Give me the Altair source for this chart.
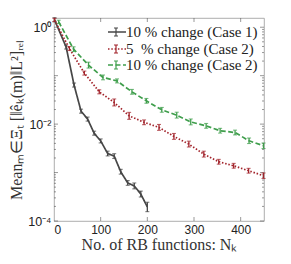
import altair as alt
import pandas as pd

# ---- data ----
labels = ["10 % change (Case 1)", "5\u00a0\u00a0% change (Case 2)", "10 % change (Case 2)"]
colors = ["#474747", "#a2232b", "#3f9e4c"]
dashes = [[1, 0], [1.5, 1.8], [5, 2.5]]

n_c1 = [1, 26, 43, 58, 72, 86, 100, 115, 129, 143, 158, 172, 186, 200]
v_c1 = [1.43, 0.39, 0.064, 0.0185, 0.0127, 0.0065, 0.0045, 0.00247, 0.00219,
        0.00104, 0.00061, 0.00053, 0.00036, 0.000195]
e_c1 = [1.1, 1.1, 1.1, 1.1, 1.1, 1.1, 1.1, 1.12, 1.12, 1.12, 1.12, 1.15, 1.15, 1.25]

n_r = [1, 33, 65, 97, 129, 161, 193, 225, 257, 289, 321, 353, 385, 417, 449]
v_r = [1.41, 0.363, 0.113, 0.0464, 0.028, 0.0148, 0.0109, 0.00855, 0.00557,
       0.00387, 0.0024, 0.00167, 0.00138, 0.00109, 0.00086]
e_r = [1.08, 1.1, 1.1, 1.1, 1.18, 1.18, 1.12, 1.15, 1.15, 1.15, 1.15, 1.12, 1.12, 1.12, 1.14]

n_g = [10, 42, 74, 105, 135, 167, 198, 231, 263, 293, 326, 356, 388, 418, 449]
v_g = [1.29, 0.352, 0.165, 0.092, 0.078, 0.0464, 0.0302, 0.0197, 0.0153,
       0.0111, 0.0092, 0.0073, 0.0067, 0.00453, 0.00357]
e_g = [1.08, 1.12, 1.15, 1.12, 1.1, 1.12, 1.12, 1.12, 1.15, 1.15, 1.12, 1.12, 1.12, 1.14, 1.14]

x_ticks = [0, 100, 200, 300, 400]
y_ticks = [1, 1e-2, 1e-4]

W, H = 210, 203
xs = alt.Scale(domain=[0, 450], nice=False)
ys = alt.Scale(type="log", domain=[1e-4, 1.55], nice=False)

series = [(n_c1, v_c1, e_c1), (n_r, v_r, e_r), (n_g, v_g, e_g)]
layers = []

# axes carrier (first layer so that its axes are used)
axis_df = pd.DataFrame({"x": [0, 450], "y": [1e-4, 1.55]})
layers.append(alt.Chart(axis_df).mark_point(opacity=0).encode(
    x=alt.X("x:Q", scale=xs, axis=alt.Axis(
        values=x_ticks, title="No. of RB functions: N\u2096", grid=False, ticks=False,
        domain=False, labelFont="Liberation Sans", labelFontSize=12, labelColor="#222",
        labelPadding=3, titleFont="Liberation Serif", titleFontSize=16,
        titleFontWeight="normal", titleColor="#333", titlePadding=1)),
    y=alt.Y("y:Q", scale=ys, axis=alt.Axis(
        values=y_ticks, grid=False, ticks=False, domain=False,
        labelExpr="datum.value > 0.5 ? '10\u2070' : (datum.value > 0.005 ? '10\u207b\u00b2' : '10\u207b\u2074')",
        labelFont="Liberation Sans", labelFontSize=12.5, labelColor="#222", labelPadding=3,
        title="Mean\u2098\u2208\u039e\u209c [\u2016\u00ea\u2096(m)\u2016L\u00b2]\u1d63\u2091\u2097",
        titleFont="Liberation Serif", titleFontSize=16, titleFontWeight="normal",
        titleColor="#333", titlePadding=3))))

# inside ticks
minor = [m * 10.0 ** e for e in range(-4, 1) for m in range(1, 10) if m * 10.0 ** e <= 1.55]
major = [10.0 ** e for e in range(-4, 1)]
tick_df = pd.DataFrame({"v": minor, "len": [4 if v in major else 2 for v in minor]})
for side in (0, 1):
    for L in (2, 4):
        sub = tick_df[tick_df["len"] == L]
        x0 = 0 if side == 0 else W
        x1 = L if side == 0 else W - L
        layers.append(alt.Chart(sub).mark_rule(color="#555", strokeWidth=0.6).encode(
            y=alt.Y("v:Q", scale=ys),
            x=alt.value(x0), x2=alt.value(x1)))
xt_df = pd.DataFrame({"x": x_ticks[1:]})
for y0, y1 in ((H, H - 4), (0, 4)):
    layers.append(alt.Chart(xt_df).mark_rule(color="#555", strokeWidth=0.6).encode(
        x=alt.X("x:Q", scale=xs), y=alt.value(y0), y2=alt.value(y1)))

for (n, v, e), c, d in zip(series, colors, dashes):
    df = pd.DataFrame({"n": n, "v": v, "lo": [a / b for a, b in zip(v, e)],
                       "hi": [a * b for a, b in zip(v, e)]})
    base = alt.Chart(df)
    layers.append(base.mark_line(color=c, strokeWidth=1.7, strokeDash=d).encode(
        x=alt.X("n:Q", scale=xs), y=alt.Y("v:Q", scale=ys)))
    layers.append(base.mark_rule(color=c, strokeWidth=1.3).encode(
        x=alt.X("n:Q", scale=xs), y=alt.Y("lo:Q", scale=ys), y2="hi:Q"))
    for f in ("lo", "hi"):
        layers.append(base.mark_tick(color=c, orient="horizontal", size=4, thickness=1.1).encode(
            x=alt.X("n:Q", scale=xs), y=alt.Y(f + ":Q", scale=ys)))

# legend
leg_y = [14, 31, 47]
for lab, c, d, yy in zip(labels, colors, dashes, leg_y):
    one = pd.DataFrame({"t": [lab]})
    b = alt.Chart(one)
    layers.append(b.mark_rule(color=c, strokeWidth=1.5, strokeDash=d).encode(
        x=alt.value(54), x2=alt.value(72), y=alt.value(yy)))
    layers.append(b.mark_rule(color=c, strokeWidth=1.2).encode(
        x=alt.value(62), y=alt.value(yy - 4), y2=alt.value(yy + 4)))
    for dy in (-4, 4):
        layers.append(b.mark_rule(color=c, strokeWidth=1).encode(
            x=alt.value(60), x2=alt.value(64), y=alt.value(yy + dy)))
    layers.append(b.mark_text(align="left", baseline="middle", font="Liberation Serif",
                              fontSize=15, color="#222").encode(
        x=alt.value(72), y=alt.value(yy), text="t:N"))

chart = alt.layer(*layers).properties(
    width=W, height=H,
    autosize=alt.AutoSizeParams(type="none"),
    padding={"left": 46, "top": 10, "right": 19, "bottom": 35},
).configure_view(stroke="#999", strokeWidth=0.8)

chart.save("out.html", embed_options={"renderer": "svg", "actions": False})
